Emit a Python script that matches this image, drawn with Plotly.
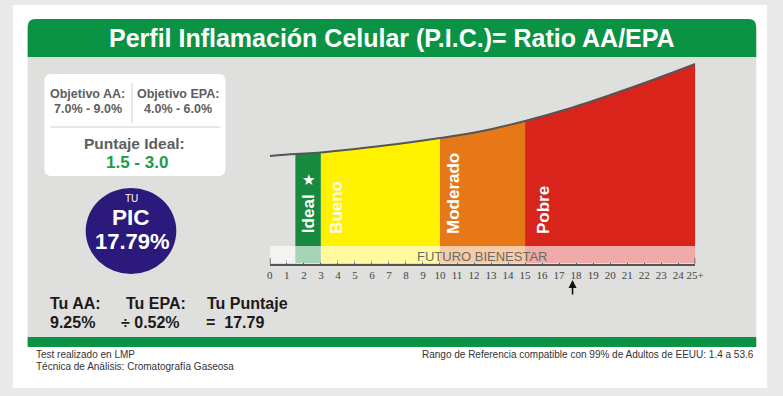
import plotly.graph_objects as go

W, H = 783, 396

# ---------------- data ----------------
zone_names = ["Ideal", "Bueno", "Moderado", "Pobre"]
zone_edges = [1.5, 3, 10, 15, 25]
zone_colors = ["#178a3f", "#fff200", "#e77817", "#d8241b"]
curve_x = [0, 1.5, 3, 5, 7.5, 10, 12.5, 15, 17.5, 20, 22.5, 25]
curve_h = [108, 110, 111.5, 115, 120, 126, 133, 143, 155, 169, 184, 200]
tick_vals = list(range(26))
tick_text = [str(v) for v in range(25)] + ["25+"]
score = 17.79
your_aa = 9.25
your_epa = 0.52
target_aa = "7.0% - 9.0%"
target_epa = "4.0% - 6.0%"
ideal_range = "1.5 - 3.0"
band_bottom, band_top = 1, 18

GREEN = "#0a9345"
SANS = "Liberation Sans, Arial, sans-serif"


def X(p):
    return p / W


def Y(p):
    return 1 - p / H


def rrect(x0, y0, x1, y1, r):
    tl, tr, br, bl = r
    pts = [
        ("M", [(x0 + tl, y0)]),
        ("L", [(x1 - tr, y0)]),
        ("Q", [(x1, y0), (x1, y0 + tr)]),
        ("L", [(x1, y1 - br)]),
        ("Q", [(x1, y1), (x1 - br, y1)]),
        ("L", [(x0 + bl, y1)]),
        ("Q", [(x0, y1), (x0, y1 - bl)]),
        ("L", [(x0, y0 + tl)]),
        ("Q", [(x0, y0), (x0 + tl, y0)]),
    ]
    s = ""
    for cmd, ps in pts:
        s += cmd + " " + " ".join(f"{X(a):.5f},{Y(b):.5f}" for a, b in ps) + " "
    return s + "Z"


fig = go.Figure()

# zones: base line + curve top filled between
for i, name in enumerate(zone_names):
    a, b = zone_edges[i], zone_edges[i + 1]
    xs = [x for x in curve_x if a <= x <= b]
    hs = [h for x, h in zip(curve_x, curve_h) if a <= x <= b]
    fig.add_trace(go.Scatter(x=[a, b], y=[band_bottom, band_bottom], mode="lines",
                             line=dict(width=0), hoverinfo="skip", showlegend=False))
    fig.add_trace(go.Scatter(x=xs, y=hs, mode="lines", fill="tonexty",
                             fillcolor=zone_colors[i],
                             line=dict(width=0.5, color=zone_colors[i], shape="spline"),
                             name=name, hoverinfo="skip", showlegend=False))

# curve line
fig.add_trace(go.Scatter(x=curve_x, y=curve_h, mode="lines",
                         line=dict(color="#555555", width=2, shape="spline"),
                         hoverinfo="skip", showlegend=False, cliponaxis=False))

shapes = []
# background card and panels
shapes.append(dict(type="rect", xref="paper", yref="paper", x0=X(10), x1=X(776), y0=Y(388), y1=Y(5),
                   fillcolor="white", line=dict(width=0), layer="below"))
shapes.append(dict(type="path", xref="paper", yref="paper", path=rrect(25, 19, 765, 57, (8, 8, 0, 0)),
                   fillcolor=GREEN, line=dict(width=0), layer="below"))
shapes.append(dict(type="rect", xref="paper", yref="paper", x0=X(25), x1=X(765), y0=Y(337), y1=Y(57),
                   fillcolor="#dfdfdd", line=dict(width=0), layer="below"))
shapes.append(dict(type="rect", xref="paper", yref="paper", x0=X(25), x1=X(765), y0=Y(347), y1=Y(337),
                   fillcolor=GREEN, line=dict(width=0), layer="below"))
# left info box
shapes.append(dict(type="path", xref="paper", yref="paper", path=rrect(42, 74, 226, 176, (7, 7, 7, 7)),
                   fillcolor="white", line=dict(width=0), layer="below"))
shapes.append(dict(type="line", xref="paper", yref="paper", x0=X(131), x1=X(131), y0=Y(123), y1=Y(83),
                   line=dict(color="#cfcfcf", width=1), layer="below"))
shapes.append(dict(type="line", xref="paper", yref="paper", x0=X(48), x1=X(220), y0=Y(127), y1=Y(127),
                   line=dict(color="#cfcfcf", width=1), layer="below"))
# PIC circle
shapes.append(dict(type="circle", xref="paper", yref="paper", x0=X(84), x1=X(176), y0=Y(274), y1=Y(188),
                   fillcolor="#2b1a7c", line=dict(width=0), layer="below"))
# FUTURO BIENESTAR wash band
shapes.append(dict(type="rect", xref="x", yref="y", x0=tick_vals[0], x1=tick_vals[-1],
                   y0=band_bottom, y1=band_top, fillcolor="rgba(255,255,255,0.62)",
                   line=dict(width=0), layer="above"))
# end ticks
for v in (tick_vals[0], tick_vals[-1]):
    shapes.append(dict(type="line", xref="x", yref="y", x0=v, x1=v, y0=-4, y1=6,
                       line=dict(color="#555555", width=1.5), layer="above"))

ann = []


def T(x, y, text, size, color="#222", bold=False, xanchor="center", family=SANS, angle=0):
    ann.append(dict(x=X(x), y=Y(y), xref="paper", yref="paper", text=(f"<b>{text}</b>" if bold else text),
                    showarrow=False, xanchor=xanchor, yanchor="middle", textangle=angle,
                    font=dict(size=size, color=color, family=family)))


T(395, 38, "Perfil Inflamación Celular (P.I.C.)= Ratio AA/EPA", 25, "white", True)
T(86, 94, "Objetivo AA:", 12.5, "#5e5e5e", True)
T(86, 109, target_aa, 12.5, "#5e5e5e", True)
T(178, 94, "Objetivo EPA:", 12.5, "#5e5e5e", True)
T(178, 109, target_epa, 12.5, "#5e5e5e", True)
T(134, 143, "Puntaje Ideal:", 15.5, "#5e5e5e", True)
T(136, 162, ideal_range, 17, "#1e9a4a", True)
T(130, 199, "TU", 10, "white")
T(130, 217, "PIC", 22.5, "white", True)
T(132, 241, f"{score:.2f}%", 22, "white", True)
T(46, 303, "Tu AA:", 16, "#1a1a1a", True, "left")
T(46, 322, f"{your_aa:.2f}%", 16, "#1a1a1a", True, "left")
T(123, 303, "Tu EPA:", 16, "#1a1a1a", True, "left")
T(118, 322, f"÷ {your_epa:.2f}%", 16, "#1a1a1a", True, "left")
T(205, 303, "Tu Puntaje", 16, "#1a1a1a", True, "left")
T(204, 322, f"=  {score:.2f}", 16, "#1a1a1a", True, "left")
T(31, 354, "Test realizado en LMP", 10, "#333", False, "left")
T(31, 366, "Técnica de Análisis: Cromatografía Gaseosa", 10, "#333", False, "left")
T(765, 354, "Rango de Referencia compatible con 99% de Adultos de EEUU: 1.4 a 53.6", 10, "#333", False, "right")
T(487, 256, "FUTURO BIENESTAR", 13, "#6a6a6a")

# zone labels (rotated)
label_y = {"Ideal": 214, "Bueno": 207, "Moderado": 193, "Pobre": 210}
label_shift = {"Ideal": 0, "Bueno": 15, "Moderado": 13, "Pobre": 18}
label_col = {"Ideal": "white", "Bueno": "#fffbe0", "Moderado": "white", "Pobre": "white"}
for i, name in enumerate(zone_names):
    xv = (zone_edges[0] + zone_edges[1]) / 2 if name == "Ideal" else zone_edges[i]
    ann.append(dict(x=xv, xref="x", y=Y(label_y[name]), yref="paper", text=f"<b>{name}</b>",
                    showarrow=False, textangle=-90, xshift=label_shift[name],
                    xanchor="center", yanchor="middle",
                    font=dict(size=17, color=label_col[name], family=SANS)))
ann.append(dict(x=(zone_edges[0] + zone_edges[1]) / 2, xref="x", y=Y(180), yref="paper", text="★",
                showarrow=False, font=dict(size=15, color="white", family="DejaVu Sans")))

# score arrow
ann.append(dict(x=score, xref="x", y=Y(280), yref="paper", text="", showarrow=True,
                arrowhead=2, arrowsize=1, arrowwidth=1.6, arrowcolor="#111", ax=0, ay=16))

fig.update_layout(
    width=W, height=H, margin=dict(l=0, r=0, t=0, b=0),
    paper_bgcolor="#e9e9e9", plot_bgcolor="rgba(0,0,0,0)",
    shapes=shapes, annotations=ann, showlegend=False,
    xaxis=dict(domain=[X(271), X(703)], range=[0, 25], showgrid=False, zeroline=False,
               showline=True, linecolor="#555555", linewidth=1.5,
               ticks="inside", ticklen=4, tickwidth=1, tickcolor="#555555",
               tickvals=tick_vals, ticktext=tick_text,
               tickfont=dict(family="Liberation Serif, Times New Roman, serif", size=11, color="#444"),
               fixedrange=True),
    yaxis=dict(domain=[Y(264), Y(60)], range=[0, 204], visible=False, fixedrange=True),
)

fig.write_html("out.html", config={"displayModeBar": False},
               post_script="document.body.style.margin='0';document.body.style.overflow='hidden';")
